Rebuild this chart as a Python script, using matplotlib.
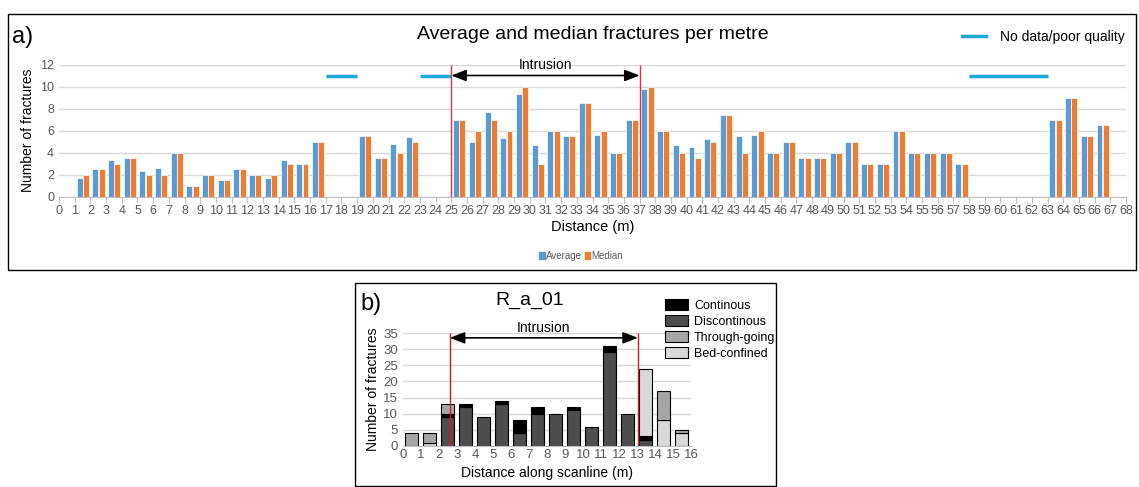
import matplotlib.pyplot as plt
import numpy as np
from matplotlib.patches import Rectangle, Patch
from matplotlib.lines import Line2D

plt.rcParams['font.family'] = ['Liberation Sans', 'DejaVu Sans']

nan = np.nan

# panel a: fractures per metre, one entry per 1 m interval (0-1 ... 67-68)
distance = np.arange(68)
average = [nan, 1.65, 2.5, 3.3, 3.5, 2.33, 2.63, 4, 1, 2, 1.5, 2.5, 2, 1.65, 3.3, 3, 5,
           nan, nan, 5.5, 3.5, 4.8, 5.4, nan, nan,
           7, 5, 7.65, 5.33, 9.33, 4.65, 6, 5.5, 8.5, 5.63, 4, 7,
           9.75, 6, 4.65, 4.47, 5.2, 7.4, 5.5, 5.63, 4, 5, 3.5, 3.5, 4, 5, 3, 3, 6, 4, 4, 4, 3,
           nan, nan, nan, nan, nan, 7, 9, 5.5, 6.5, nan]
median = [nan, 2, 2.5, 3, 3.5, 2, 2, 4, 1, 2, 1.5, 2.5, 2, 2, 3, 3, 5,
          nan, nan, 5.5, 3.5, 4, 5, nan, nan,
          7, 6, 7, 6, 10, 3, 6, 5.5, 8.5, 6, 4, 7,
          10, 6, 4, 3.5, 5, 7.4, 4, 6, 4, 5, 3.5, 3.5, 4, 5, 3, 3, 6, 4, 4, 4, 3,
          nan, nan, nan, nan, nan, 7, 9, 5.5, 6.5, nan]
nodata_start = [17, 23, 58]
nodata_end = [19, 25, 63]
nodata_level = 11
intrusion_a = (25, 37)

# panel b: scanline R_a_01, fractures per metre by type
scan_dist = np.arange(16)
continous = [0, 0, 1, 1, 0, 1, 4, 2, 0, 1, 0, 2, 0, 1, 0, 0]
discontinous = [0, 0, 9, 12, 9, 13, 4, 10, 10, 11, 6, 29, 10, 2, 0, 0]
through_going = [4, 3, 3, 0, 0, 0, 0, 0, 0, 0, 0, 0, 0, 0, 9, 1]
bed_confined = [0, 1, 0, 0, 0, 0, 0, 0, 0, 0, 0, 0, 0, 21, 8, 4]
intrusion_b = (2.6, 13.05)

blue = '#5B9BD5'
orange = '#ED7D31'
cyan = '#1CA9D6'
grid_col = '#D9D9D9'
tick_col = '#595959'

W, H = 1139, 487
fig = plt.figure(figsize=(W / 100, H / 100), dpi=100)


def px(x0, y0, x1, y1):
    """pixel box (left, top, right, bottom) -> figure fraction rect"""
    return [x0 / W, 1 - y1 / H, (x1 - x0) / W, (y1 - y0) / H]


def style_axis(ax):
    for s in ['left', 'right', 'top']:
        ax.spines[s].set_visible(False)
    ax.spines['bottom'].set_color('#BFBFBF')
    ax.grid(axis='y', color=grid_col, lw=1)
    ax.set_axisbelow(True)
    ax.tick_params(axis='y', length=0, colors=tick_col, labelsize=9)
    ax.tick_params(axis='x', length=4, color='#BFBFBF', colors=tick_col, labelsize=9, pad=2)


# ---------------- panel a ----------------
ax1 = fig.add_axes(px(59, 64.5, 1126, 196.5))
style_axis(ax1)
ax1.bar(distance + 0.31, average, width=0.38, color=blue, edgecolor='white', lw=0.5)
ax1.bar(distance + 0.71, median, width=0.38, color=orange, edgecolor='white', lw=0.5)
ax1.hlines([nodata_level] * len(nodata_start), nodata_start, nodata_end,
           color=cyan, lw=2.5, label='No data/poor quality')
ax1.vlines(intrusion_a, 0, 12, color='#D9363E', lw=1)
ax1.annotate('', xy=(intrusion_a[1], 11), xytext=(intrusion_a[0], 11),
             arrowprops=dict(arrowstyle='<|-|>,head_length=0.9,head_width=0.35',
                             color='black', lw=1.2, shrinkA=0, shrinkB=0))
ax1.text(sum(intrusion_a) / 2, 11.35, 'Intrusion', ha='center', va='bottom', fontsize=10)
ax1.set_xlim(0, 68)
ax1.set_ylim(0, 12)
ax1.set_xticks(np.arange(69))
ax1.set_yticks(np.arange(0, 13, 2))
ax1.set_ylabel('Number of fractures', fontsize=10, labelpad=4)
ax1.set_xlabel('Distance (m)', fontsize=10.5, labelpad=2)
ax1.set_title('Average and median fractures per metre', fontsize=14, pad=0, y=1.19)

ax1.legend(handles=[Line2D([], [], color=cyan, lw=2.5)], labels=['No data/poor quality'],
           loc='center left', bbox_to_anchor=(962 / W, 1 - 37 / H),
           bbox_transform=fig.transFigure, frameon=False, fontsize=10,
           handlelength=1.7, handletextpad=1.0, borderpad=0, borderaxespad=0)
fig.legend(handles=[Patch(color=blue), Patch(color=orange)], labels=['Average', 'Median'],
           loc='center', bbox_to_anchor=(581 / W, 1 - 256 / H), ncol=2, frameon=False,
           fontsize=7, handlelength=0.6, handleheight=0.6, handletextpad=0.1,
           columnspacing=0.3, labelcolor=tick_col)
fig.text(12 / W, 1 - 37 / H, 'a)', fontsize=17, va='center', ha='left')
fig.add_artist(Rectangle((8 / W, 1 - 270 / H), 1128 / W, 256 / H, transform=fig.transFigure,
                         fill=False, edgecolor='black', lw=1))

# ---------------- panel b ----------------
ax2 = fig.add_axes(px(403, 333, 691, 446))
style_axis(ax2)
bw = 0.75
x2 = scan_dist + 0.47
stack = [(discontinous, '#4D4D4D'),
         (continous, '#000000'),
         (bed_confined, '#D9D9D9'),
         (through_going, '#A6A6A6')]
bottom = np.zeros(len(scan_dist))
for vals, col in stack:
    v = np.array(vals, dtype=float)
    ax2.bar(x2, np.where(v > 0, v, nan), width=bw, bottom=bottom, color=col,
            edgecolor='black', lw=0.8)
    bottom = bottom + v
ax2.vlines(intrusion_b, 0, 35, color='#E0161E', lw=1)
ax2.annotate('', xy=(intrusion_b[1], 33.5), xytext=(intrusion_b[0], 33.5),
             arrowprops=dict(arrowstyle='<|-|>,head_length=0.9,head_width=0.35',
                             color='black', lw=1.2, shrinkA=0, shrinkB=0))
ax2.text(sum(intrusion_b) / 2, 34.3, 'Intrusion', ha='center', va='bottom', fontsize=10)
ax2.set_xlim(0, 16)
ax2.set_ylim(0, 35)
ax2.set_xticks(np.arange(17))
ax2.set_yticks(np.arange(0, 36, 5))
ax2.tick_params(axis='both', length=0, labelsize=9.5)
ax2.set_ylabel('Number of fractures', fontsize=10, labelpad=2)
ax2.set_xlabel('Distance along scanline (m)', fontsize=10, labelpad=4)
fig.text(530 / W, 1 - 300 / H, 'R_a_01', fontsize=14, ha='center', va='center')
fig.text(360 / W, 1 - 304 / H, 'b)', fontsize=17, ha='left', va='center')

leg_items = [('Continous', '#000000'), ('Discontinous', '#4D4D4D'),
             ('Through-going', '#A6A6A6'), ('Bed-confined', '#D9D9D9')]
fig.legend(handles=[Patch(facecolor=c, edgecolor='black', lw=0.8) for _, c in leg_items],
           labels=[l for l, _ in leg_items], loc='upper left',
           bbox_to_anchor=(659 / W, 1 - 293 / H), frameon=False, fontsize=9,
           handlelength=1.8, handleheight=1.0, labelspacing=0.25, handletextpad=0.5,
           borderpad=0)
fig.add_artist(Rectangle((355 / W, 1 - 486 / H), 421 / W, 203 / H, transform=fig.transFigure,
                         fill=False, edgecolor='black', lw=1))

fig.savefig('out.png', dpi=100)
